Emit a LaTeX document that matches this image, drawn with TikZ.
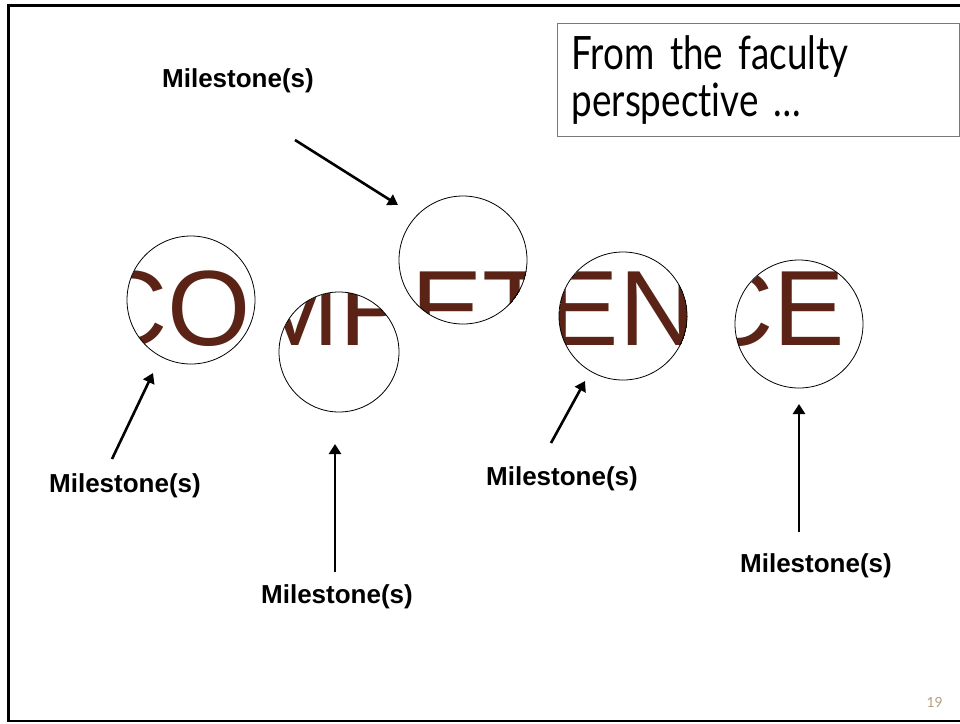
\documentclass[tikz,border=0pt]{standalone}
\usepackage{fontspec}
\setmainfont{Liberation Sans}
\newfontfamily\slidefont[FakeStretch=0.8,Ligatures=NoCommon]{Lato}
\newfontfamily\numfont{Lato}
\usepackage{xcolor}
\usetikzlibrary{
    arrows.meta,
    positioning
}
\definecolor{wordbrown}{RGB}{90,35,22}
\definecolor{boxgray}{RGB}{120,120,120}
\definecolor{pagetan}{RGB}{176,160,128}

\begin{document}
\begin{tikzpicture}[
    x=1pt, y=-1pt,
    ring/.style={
        draw=black,
        line width=0.8pt
    },
    mstone/.style={
        font=\fontsize{26}{30}\selectfont\bfseries,
        inner sep=0pt,
        anchor=base
    },
    arrow/.style={-{Triangle[length=10pt,width=12pt]},line width=2.6pt}
]
\useasboundingbox (0,0) rectangle (960,723);

% slide frame
\draw[line width=2.6pt] (8.3,5.5) rectangle (980,721);

% circle centres
\coordinate (cCO) at (191,300);
\coordinate (cMP) at (339,352);
\coordinate (cET) at (463,260);
\coordinate (cEN) at (623,316);
\coordinate (cCE) at (799,324);

% the word, seen only through the circles
\begin{scope}
\clip (cCO) circle[radius=64pt] (cMP) circle[radius=60pt]
      (cET) circle[radius=64pt] (cEN) circle[radius=64pt]
      (cCE) circle[radius=64pt];
\node[font=\fontsize{107}{107}\selectfont, text=wordbrown,
      inner sep=0pt, anchor=base west] (word) at (90,345) {COMPETENCE};
\end{scope}

\draw[ring] (cCO) circle[radius=64pt];
\draw[ring] (cMP) circle[radius=60pt];
\draw[ring] (cET) circle[radius=64pt];
\draw[ring] (cEN) circle[radius=64pt];
\draw[ring] (cCE) circle[radius=64pt];

% labels
\node[mstone] (mTop) at (238,87) {Milestone(s)};
\node[mstone] (mCO) at (125,492) {Milestone(s)};
\node[mstone] (mMP) at (337,603) {Milestone(s)};
\node[mstone] (mEN) at (562,485) {Milestone(s)};
\node[mstone] (mCE) at (816,572) {Milestone(s)};

% arrow ends
\coordinate (aTop) at (295,140);  \coordinate (bTop) at (398,205);
\coordinate (aCO) at (112,459);   \coordinate (bCO) at (153,373);
\coordinate (aMP) at (335,572);   \coordinate (bMP) at (335,444);
\coordinate (aEN) at (551,443);   \coordinate (bEN) at (585,381);
\coordinate (aCE) at (799,532);   \coordinate (bCE) at (799,404);

\draw[arrow] (aTop) -- (bTop);
\draw[arrow] (aCO) -- (bCO);
\draw[arrow] (aMP) -- (bMP);
\draw[arrow] (aEN) -- (bEN);
\draw[arrow] (aCE) -- (bCE);

% title box
\node[draw=boxgray, line width=1.3pt, anchor=north west,
      minimum width=402pt, minimum height=113pt,
      inner xsep=14pt, text width=374pt, align=left,
      font=\slidefont\fontsize{46}{47}\selectfont] (view) at (557,23)
{From the faculty\\perspective \dots};

% page number
\node[font=\numfont\fontsize{14}{14}\selectfont, text=pagetan,
      inner sep=0pt, anchor=base east] (page) at (943,707) {19};

\end{tikzpicture}
\end{document}
